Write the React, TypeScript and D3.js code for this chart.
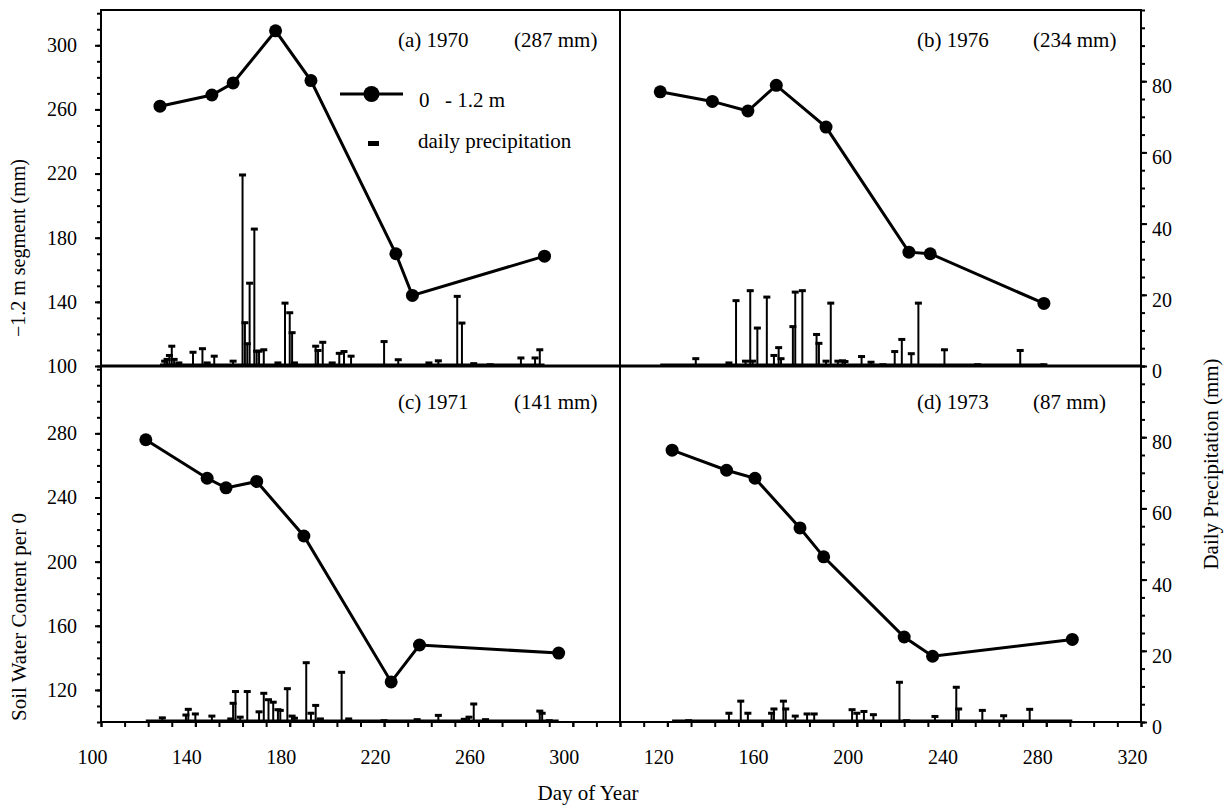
import React, { useEffect, useRef } from 'react';
import * as d3 from 'd3';

// Soil water content (0 - 1.2 m), mm, by day of year
const days1970 = [125, 147, 156, 174, 189, 225, 232, 288];
const swc1970 = [262, 269, 276.5, 309, 278, 170, 144, 168.5];
const days1976 = [117, 139, 154, 166, 187, 222, 231, 279];
const swc1976 = [271, 265, 259, 275, 249, 171, 170, 139];
const days1971 = [119, 145, 153, 166, 186, 223, 235, 294];
const swc1971 = [276, 252, 246, 250, 216, 125, 148, 143];
const days1973 = [122, 145, 157, 176, 186, 220, 232, 291];
const swc1973 = [269.5, 257, 252, 221, 203, 153, 141, 151.5];

// Daily precipitation [day, mm]
const precip1970: [number, number][] = [
    [127, 1.5], [128, 2], [129, 3.1], [130, 5.7], [131, 2], [133, 1], [139, 4], [143, 5], [145, 1], [148, 2.9],
    [156, 1.5], [160, 53.8], [161, 12.3], [162, 6.4], [163, 23.4], [165, 38.6], [166, 4.3], [167, 4.3], [169, 4.7],
    [175, 1], [178, 17.8], [180, 15.1], [181, 9.5], [182, 1], [191, 5.7], [192, 4.5], [194, 6.8], [198, 1],
    [201, 3.7], [203, 4.2], [206, 2.9], [220, 7], [226, 1.9], [239, 1], [243, 1.6], [251, 19.7], [253, 12.2],
    [258, 0.8], [265, 0.5], [278, 2.4], [284, 2.4], [286, 4.7],
];
const precip1976: [number, number][] = [
    [132, 2.2], [146, 1], [149, 18.5], [153, 1.5], [155, 21.3], [156, 1.5], [158, 10.8], [162, 19.5], [165, 3.1],
    [167, 5.3], [168, 2.2], [173, 11.2], [174, 20.9], [177, 21.3], [183, 9], [184, 6.5], [187, 1.5], [189, 17.8],
    [192, 1.5], [194, 1.6], [195, 1.4], [202, 2.8], [206, 1.2], [211, 0.5], [216, 4.2], [219, 7.6], [223, 3.6],
    [226, 17.8], [237, 4.7], [251, 0.5], [269, 4.5], [279, 0.5],
];
const precip1971: [number, number][] = [
    [126, 1.3], [136, 2.1], [137, 3.7], [140, 2.4], [147, 1.8], [155, 1], [156, 5.4], [157, 8.7], [159, 1.5],
    [162, 8.7], [167, 3], [169, 8.2], [171, 6.4], [173, 5.7], [175, 3.6], [176, 3.4], [179, 9.5], [181, 1.8],
    [182, 1.2], [187, 16.8], [189, 2.6], [191, 4.8], [193, 1], [202, 14.1], [205, 1], [220, 0.5], [234, 0.8],
    [243, 2], [254, 0.9], [256, 1.5], [258, 5.2], [263, 0.8], [286, 3.2], [287, 2.6], [290, 0.5],
];
const precip1973: [number, number][] = [
    [129, 0.5], [146, 2.6], [151, 6], [154, 2.6], [164, 2.6], [165, 3.8], [169, 6], [170, 3.8], [174, 1.8],
    [179, 2.4], [182, 2.4], [198, 3.6], [200, 2.6], [203, 3.1], [207, 2.2], [218, 11.3], [221, 0.5], [233, 1.7],
    [242, 9.9], [243, 3.8], [253, 3.4], [262, 1.9], [273, 3.7],
];

// tick labels
const leftLabelsTop = [100, 140, 180, 220, 260, 300];
const leftLabelsBottom = [120, 160, 200, 240, 280];
const rightLabels = [0, 20, 40, 60, 80];
const xLabelsLeft = [100, 140, 180, 220, 260, 300];
const xLabelsRight = [120, 160, 200, 240, 280, 320];

const FONT = '"Liberation Serif", "Times New Roman", serif';

function App() {
    const chartRef = useRef<SVGSVGElement>(null);

    useEffect(() => {
        const svg = d3.select(chartRef.current);
        svg.selectAll('*').remove();

        // panel geometry
        const cols = [[101, 620], [620, 1141]];
        const rows = [[366, 10], [722, 366]];

        const x = cols.map((r) => d3.scaleLinear().domain([100, 320]).range(r));
        const ySwc = rows.map((r) => d3.scaleLinear().domain([100, 322]).range(r));
        const yPr = rows.map((r) => d3.scaleLinear().domain([0, 100]).range(r));

        const panels = [
            { col: 0, row: 0, days: days1970, swc: swc1970, precip: precip1970, tag: '(a) 1970', total: '(287 mm)' },
            { col: 1, row: 0, days: days1976, swc: swc1976, precip: precip1976, tag: '(b) 1976', total: '(234 mm)' },
            { col: 0, row: 1, days: days1971, swc: swc1971, precip: precip1971, tag: '(c) 1971', total: '(141 mm)' },
            { col: 1, row: 1, days: days1973, swc: swc1973, precip: precip1973, tag: '(d) 1973', total: '(87 mm)' },
        ];

        const g = svg.append('g');

        panels.forEach((p) => {
            const xs = x[p.col];
            const ys = ySwc[p.row];
            const yp = yPr[p.row];
            const base = yp(0);

            // thick zero line over the observation period
            g.append('line')
                .attr('x1', xs(p.days[0]))
                .attr('x2', xs(p.days[p.days.length - 1]))
                .attr('y1', base - 1.5)
                .attr('y2', base - 1.5)
                .attr('stroke', '#000')
                .attr('stroke-width', 2);

            // precipitation bars with caps
            const bars = g.append('g');
            bars.selectAll('line')
                .data(p.precip)
                .join('line')
                .attr('x1', (d) => xs(d[0]))
                .attr('x2', (d) => xs(d[0]))
                .attr('y1', base)
                .attr('y2', (d) => yp(d[1]))
                .attr('stroke', '#000')
                .attr('stroke-width', 2);
            bars.selectAll('rect')
                .data(p.precip)
                .join('rect')
                .attr('x', (d) => xs(d[0]) - 3.5)
                .attr('y', (d) => yp(d[1]) - 1)
                .attr('width', 7)
                .attr('height', 3)
                .attr('fill', '#000');

            // soil water line
            const pts = p.days.map((d, i) => [d, p.swc[i]] as [number, number]);
            const line = d3.line<[number, number]>()
                .x((d) => xs(d[0]))
                .y((d) => ys(d[1]));
            g.append('path')
                .datum(pts)
                .attr('fill', 'none')
                .attr('stroke', '#000')
                .attr('stroke-width', 3)
                .attr('d', line);
            g.append('g')
                .selectAll('circle')
                .data(pts)
                .join('circle')
                .attr('cx', (d) => xs(d[0]))
                .attr('cy', (d) => ys(d[1]))
                .attr('r', 6.5)
                .attr('fill', '#000');

            // panel annotation
            const x0 = cols[p.col][0];
            const yb = p.row === 0 ? 47 : 409;
            g.append('text').attr('x', x0 + 297).attr('y', yb).text(p.tag)
                .attr('font-family', FONT).attr('font-size', 21);
            g.append('text').attr('x', x0 + 413).attr('y', yb).text(p.total)
                .attr('font-family', FONT).attr('font-size', 21);
        });

        // frame
        g.append('rect')
            .attr('x', 101).attr('y', 10).attr('width', 1040).attr('height', 712)
            .attr('fill', 'none').attr('stroke', '#000').attr('stroke-width', 2);
        g.append('line').attr('x1', 101).attr('x2', 1141).attr('y1', 366).attr('y2', 366)
            .attr('stroke', '#000').attr('stroke-width', 3);
        g.append('line').attr('x1', 620).attr('x2', 620).attr('y1', 10).attr('y2', 722)
            .attr('stroke', '#000').attr('stroke-width', 2);

        const styleAxis = (sel: d3.Selection<SVGGElement, unknown, null, undefined>) => {
            sel.select('.domain').remove();
            sel.attr('font-family', FONT).attr('font-size', 20);
            sel.selectAll('line').attr('stroke', '#000').attr('stroke-width', 2);
            sel.selectAll('text').attr('fill', '#000');
        };

        // left axes
        rows.forEach((r, i) => {
            const minor = g.append('g').attr('transform', 'translate(101,0)')
                .call(d3.axisLeft(ySwc[i]).tickValues(d3.range(100, 321, 10)).tickSize(4).tickFormat(() => ''));
            styleAxis(minor as any);
            const major = g.append('g').attr('transform', 'translate(101,0)')
                .call(d3.axisLeft(ySwc[i]).tickValues(i === 0 ? leftLabelsTop : leftLabelsBottom)
                    .tickSize(6).tickPadding(18).tickFormat(d3.format('d')));
            styleAxis(major as any);
        });

        // right axes
        rows.forEach((r, i) => {
            const minor = g.append('g').attr('transform', 'translate(1141,0)')
                .call(d3.axisRight(yPr[i]).tickValues(d3.range(0, 101, 5)).tickSize(4).tickFormat(() => ''));
            styleAxis(minor as any);
            const major = g.append('g').attr('transform', 'translate(1141,0)')
                .call(d3.axisRight(yPr[i]).tickValues(rightLabels).tickSize(6).tickPadding(5).tickFormat(d3.format('d')));
            styleAxis(major as any);
            major.selectAll('text').attr('y', 5);
        });

        // bottom axes
        cols.forEach((c, i) => {
            const minor = g.append('g').attr('transform', 'translate(0,722)')
                .call(d3.axisBottom(x[i]).tickValues(d3.range(100, 321, 10)).tickSize(5).tickFormat(() => ''));
            styleAxis(minor as any);
            const major = g.append('g').attr('transform', 'translate(0,722)')
                .call(d3.axisBottom(x[i]).tickValues(i === 0 ? xLabelsLeft : xLabelsRight).tickSize(5).tickFormat(d3.format('d')));
            styleAxis(major as any);
            major.selectAll('text').attr('x', -9).attr('y', 28).attr('dy', '0.71em');
        });

        // axis titles
        g.append('text')
            .attr('transform', 'translate(25,337) rotate(-90)')
            .attr('font-family', FONT).attr('font-size', 20)
            .text('\u22121.2 m segment (mm)');
        g.append('text')
            .attr('transform', 'translate(26,721) rotate(-90)')
            .attr('font-family', FONT).attr('font-size', 21)
            .text('Soil Water Content per 0');
        g.append('text')
            .attr('transform', 'translate(1218,464) rotate(-90)')
            .attr('text-anchor', 'middle')
            .attr('font-family', FONT).attr('font-size', 21)
            .text('Daily Precipitation (mm)');
        g.append('text')
            .attr('x', 588).attr('y', 800)
            .attr('text-anchor', 'middle')
            .attr('font-family', FONT).attr('font-size', 21)
            .text('Day of Year');

        // legend
        const lg = g.append('g');
        lg.append('line').attr('x1', 340).attr('x2', 403).attr('y1', 94).attr('y2', 94)
            .attr('stroke', '#000').attr('stroke-width', 3);
        lg.append('circle').attr('cx', 371.5).attr('cy', 94).attr('r', 8).attr('fill', '#000');
        lg.append('text').attr('x', 419).attr('y', 107).attr('font-family', FONT).attr('font-size', 21).text('0');
        lg.append('text').attr('x', 445).attr('y', 107).attr('font-family', FONT).attr('font-size', 21).text('- 1.2 m');
        lg.append('rect').attr('x', 368).attr('y', 141).attr('width', 11).attr('height', 5).attr('fill', '#000');
        lg.append('text').attr('x', 418).attr('y', 148).attr('font-family', FONT).attr('font-size', 21)
            .text('daily precipitation');
    }, []);

    return (
        <svg
            ref={chartRef}
            width={1228}
            height={808}
            style={{ position: 'absolute', left: 0, top: 0, background: 'white' }}
        />
    );
}

export default App;
